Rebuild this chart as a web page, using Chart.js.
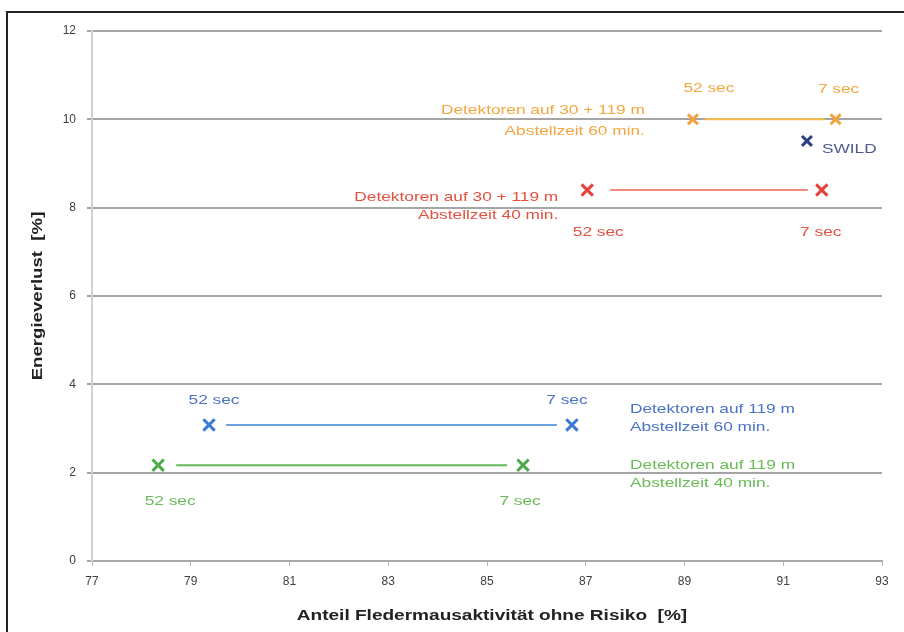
<!DOCTYPE html>
<html>
<head>
<meta charset="utf-8">
<script src="https://cdn.jsdelivr.net/npm/chart.js@4"></script>
<style>
  html, body { margin: 0; padding: 0; background: #fff; }
  #wrap { position: relative; width: 904px; height: 632px; }
  #frame { position: absolute; left: 6px; top: 11px; right: 0; bottom: 0;
           border-left: 2px solid #222; border-top: 2px solid #222; }
  canvas { position: absolute; left: 0; top: 0; }
</style>
</head>
<body>
<div id="wrap">
  <div id="frame"></div>
  <canvas id="chart" width="904" height="632"></canvas>
</div>
<script>
// x = Anteil Fledermausaktivität ohne Risiko [%], y = Energieverlust [%]
const pointLabels = ["52 sec", "7 sec"];

const x30_60 = [89.17, 92.06];
const y30_60 = [10.0, 10.0];
const x30_40 = [87.03, 91.78];
const y30_40 = [8.4, 8.4];
const x119_60 = [79.37, 86.72];
const y119_60 = [3.08, 3.08];
const x119_40 = [78.34, 85.73];
const y119_40 = [2.17, 2.17];
const swildX = [91.48];
const swildY = [9.51];

const xTicks = [77, 79, 81, 83, 85, 87, 89, 91, 93];
const yTicks = [0, 2, 4, 6, 8, 10, 12];

const xTitle = "Anteil Fledermausaktivität ohne Risiko  [%]";
const yTitle = "Energieverlust  [%]";

const toPoints = (xs, ys) => xs.map((x, i) => ({ x: x, y: ys[i] }));

const STRETCH = 1.33; // text in the original is drawn wide
const FONT = "'Liberation Sans', Arial, sans-serif";

// fill text stretched horizontally, keeping the anchor for the alignment
function wideText(ctx, text, x, y, align, sx) {
  sx = sx || STRETCH;
  const w = ctx.measureText(text).width * sx;
  let x0 = x;
  if (align === "center") x0 = x - w / 2;
  else if (align === "right") x0 = x - w;
  ctx.save();
  ctx.translate(x0, y);
  ctx.scale(sx, 1);
  ctx.textAlign = "left";
  ctx.fillText(text, 0, 0);
  ctx.restore();
}

// draws the connecting line with a small gap at each marker
const gapLines = {
  id: "gapLines",
  beforeDatasetsDraw(chart) {
    const ctx = chart.ctx;
    chart.data.datasets.forEach((ds, i) => {
      if (!ds.gapLine) return;
      const pts = chart.getDatasetMeta(i).data;
      ctx.save();
      ctx.strokeStyle = ds.lineColor;
      ctx.lineWidth = 2;
      for (let k = 0; k < pts.length - 1; k++) {
        const a = pts[k], b = pts[k + 1];
        const dx = b.x - a.x, dy = b.y - a.y;
        const len = Math.hypot(dx, dy);
        const ux = dx / len, uy = dy / len;
        ctx.beginPath();
        ctx.moveTo(a.x + ux * ds.gapLine[0], a.y + uy * ds.gapLine[0]);
        ctx.lineTo(b.x - ux * ds.gapLine[1], b.y - uy * ds.gapLine[1]);
        ctx.stroke();
      }
      ctx.restore();
    });
  },
};

// text labels anchored to the data points, plus both axis titles
const textLabels = {
  id: "textLabels",
  afterDatasetsDraw(chart) {
    const ctx = chart.ctx;
    ctx.save();
    ctx.font = "13px " + FONT;
    ctx.textBaseline = "middle";
    chart.data.datasets.forEach((ds, i) => {
      const pts = chart.getDatasetMeta(i).data;
      ctx.fillStyle = ds.textColor;
      (ds.pointText || []).forEach((t, k) => {
        wideText(ctx, t.text, pts[k].x + t.dx, pts[k].y + t.dy, t.align || "center");
      });
      if (ds.nameText) {
        const n = ds.nameText;
        const p = pts[n.anchor];
        n.lines.forEach((line, j) => {
          wideText(ctx, line, p.x + n.dx, p.y + n.dy + j * n.lh, n.align);
        });
      }
    });

    const area = chart.chartArea;
    ctx.fillStyle = "#222";
    ctx.font = "bold 14px " + FONT;
    wideText(ctx, xTitle, 492, 616, "center", 1.36);
    ctx.save();
    ctx.translate(38, (area.top + area.bottom) / 2);
    ctx.rotate(-Math.PI / 2);
    wideText(ctx, yTitle, 0, 0, "center");
    ctx.restore();
    ctx.restore();
  },
};

new Chart(document.getElementById("chart"), {
  type: "scatter",
  data: {
    datasets: [
      {
        label: "Detektoren auf 30 + 119 m, Abstellzeit 60 min.",
        data: toPoints(x30_60, y30_60),
        borderColor: "#f2a33a",
        lineColor: "#f6bd45",
        textColor: "#f3a640",
        radius: 7,
        gapLine: [12, 11],
        pointText: [
          { text: pointLabels[0], dx: 16, dy: -31 },
          { text: pointLabels[1], dx: 3, dy: -30 },
        ],
        nameText: { anchor: 0, align: "right", dx: -48, dy: -9, lh: 21,
                    lines: ["Detektoren auf 30 + 119 m", "Abstellzeit 60 min."] },
      },
      {
        label: "Detektoren auf 30 + 119 m, Abstellzeit 40 min.",
        data: toPoints(x30_40, y30_40),
        borderColor: "#e8403a",
        lineColor: "#f08a7c",
        textColor: "#e5503f",
        gapLine: [23, 14],
        pointText: [
          { text: pointLabels[0], dx: 11, dy: 42 },
          { text: pointLabels[1], dx: -1, dy: 42 },
        ],
        nameText: { anchor: 0, align: "right", dx: -29, dy: 7, lh: 18,
                    lines: ["Detektoren auf 30 + 119 m", "Abstellzeit 40 min."] },
      },
      {
        label: "SWILD",
        data: toPoints(swildX, swildY),
        borderColor: "#2c3f86",
        textColor: "#4b5a8e",
        radius: 7,
        pointText: [{ text: "SWILD", align: "left", dx: 15, dy: 8 }],
      },
      {
        label: "Detektoren auf 119 m, Abstellzeit 60 min.",
        data: toPoints(x119_60, y119_60),
        borderColor: "#3a78d6",
        lineColor: "#6fa2e2",
        textColor: "#4a72c8",
        gapLine: [17, 15],
        pointText: [
          { text: pointLabels[0], dx: 5, dy: -25 },
          { text: pointLabels[1], dx: -5, dy: -25 },
        ],
        nameText: { anchor: 1, align: "left", dx: 58, dy: -16, lh: 18,
                    lines: ["Detektoren auf 119 m", "Abstellzeit 60 min."] },
      },
      {
        label: "Detektoren auf 119 m, Abstellzeit 40 min.",
        data: toPoints(x119_40, y119_40),
        borderColor: "#4caa48",
        lineColor: "#63b85a",
        textColor: "#69bb55",
        gapLine: [18, 16],
        pointText: [
          { text: pointLabels[0], dx: 12, dy: 36 },
          { text: pointLabels[1], dx: -3, dy: 36 },
        ],
        nameText: { anchor: 1, align: "left", dx: 107, dy: 0, lh: 18,
                    lines: ["Detektoren auf 119 m", "Abstellzeit 40 min."] },
      },
    ],
  },
  plugins: [gapLines, textLabels],
  options: {
    responsive: false,
    animation: false,
    layout: { padding: { top: 31, right: 22, left: 0, bottom: 0 } },
    elements: {
      point: { pointStyle: "crossRot", radius: 8, borderWidth: 3, hoverRadius: 8 },
    },
    plugins: { legend: { display: false }, tooltip: { enabled: false } },
    scales: {
      x: {
        type: "linear",
        min: xTicks[0],
        max: xTicks[xTicks.length - 1],
        afterBuildTicks: (s) => { s.ticks = xTicks.map((v) => ({ value: v })); },
        afterFit: (s) => { s.height = 71; },
        grid: { drawOnChartArea: false, drawTicks: true, tickLength: 5, color: "#b5b5b5" },
        border: { color: "#a8a8a8", width: 2 },
        ticks: { color: "#404040", font: { family: FONT, size: 12 }, padding: 8 },
      },
      y: {
        type: "linear",
        min: yTicks[0],
        max: yTicks[yTicks.length - 1],
        afterBuildTicks: (s) => { s.ticks = yTicks.map((v) => ({ value: v })); },
        afterFit: (s) => { s.width = 92; },
        grid: { color: "#a5a5a5", lineWidth: 2, tickLength: 5 },
        border: { color: "#d0d0d0", width: 2 },
        ticks: { color: "#404040", font: { family: FONT, size: 12 }, padding: 11 },
      },
    },
  },
});
</script>
</body>
</html>
